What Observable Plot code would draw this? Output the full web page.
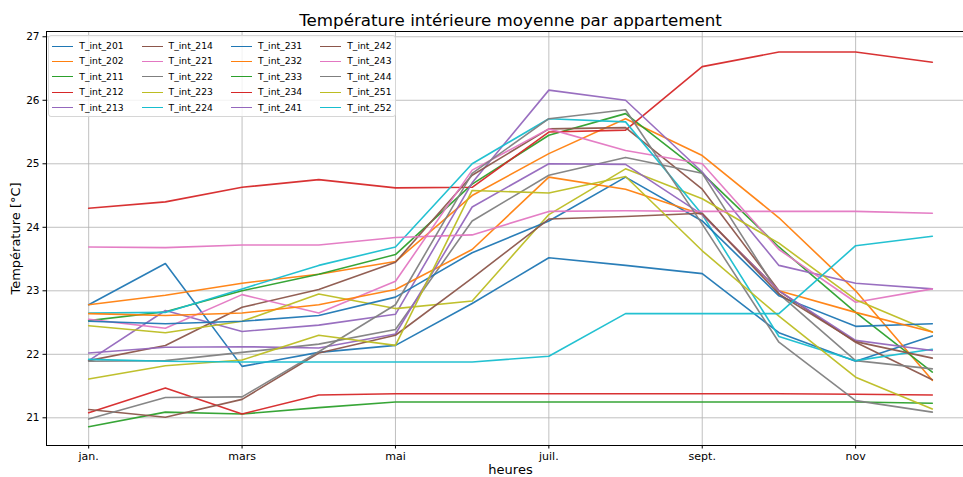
<!DOCTYPE html>
<html><head><meta charset="utf-8">
<script src="https://cdn.jsdelivr.net/npm/d3@7"></script>
<script src="https://cdn.jsdelivr.net/npm/@observablehq/plot@0.6"></script>
<style>
html,body{margin:0;padding:0;background:#fff;overflow:hidden;}
#wrap{position:relative;width:963px;height:477px;overflow:hidden;font-family:"DejaVu Sans",sans-serif;}
#legend{position:absolute;left:48px;top:35px;width:348px;height:82px;border:1px solid #d6d6d6;border-radius:3px;background:rgba(255,255,255,0.8);box-sizing:border-box;}
.item{position:absolute;height:14px;font-size:9.2px;line-height:14px;color:#000;white-space:nowrap;}
.sw{position:absolute;left:0;top:6.5px;width:21px;height:0;border-top:1.5px solid;}
.lbl{position:absolute;left:27px;top:0;}
</style></head>
<body><div id="wrap"></div>
<script>
const monthLabels = ["jan.", "févr.", "mars", "avr.", "mai", "juin", "juil.", "août", "sept.", "oct.", "nov", "déc."];
const months = [0,1,2,3,4,5,6,7,8,9,10,11];
const xTicks = [0, 2, 4, 6, 8, 10];
const yTicks = [21, 22, 23, 24, 25, 26, 27];
const names = ["T_int_201","T_int_202","T_int_211","T_int_212","T_int_213","T_int_214","T_int_221","T_int_222","T_int_223","T_int_224",
               "T_int_231","T_int_232","T_int_233","T_int_234","T_int_241","T_int_242","T_int_243","T_int_244","T_int_251","T_int_252"];
const colors = ["#1f77b4","#ff7f0e","#2ca02c","#d62728","#9467bd","#8c564b","#e377c2","#7f7f7f","#bcbd22","#17becf",
                "#1f77b4","#ff7f0e","#2ca02c","#d62728","#9467bd","#8c564b","#e377c2","#7f7f7f","#bcbd22","#17becf"];

const T_int_201 = [22.78, 23.43, 21.81, 22.03, 22.14, 22.80, 23.52, 23.40, 23.27, 22.34, 21.89, 22.29];
const T_int_202 = [22.78, 22.93, 23.12, 23.26, 23.46, 24.50, 25.16, 25.71, 25.13, 24.15, 23.00, 21.59];
const T_int_211 = [22.53, 22.67, 23.00, 23.26, 23.57, 24.68, 25.45, 25.79, 24.85, 23.69, 22.66, 21.72];
const T_int_212 = [24.30, 24.40, 24.63, 24.75, 24.62, 24.63, 25.50, 25.53, 26.53, 26.76, 26.76, 26.60];
const T_int_213 = [21.90, 22.69, 22.36, 22.46, 22.63, 24.70, 26.16, 26.00, 24.87, 23.40, 23.12, 23.03];
const T_int_214 = [21.90, 22.14, 22.74, 23.02, 23.45, 24.82, 25.55, 25.57, 24.60, 23.00, 22.19, 21.60];
const T_int_221 = [22.55, 22.41, 22.94, 22.65, 23.15, 24.90, 25.55, 25.21, 25.00, 23.65, 22.82, 23.03];
const T_int_222 = [21.89, 21.90, 22.03, 22.16, 22.39, 24.10, 24.82, 25.10, 24.85, 22.95, 21.90, 21.77];
const T_int_223 = [22.45, 22.34, 22.52, 22.95, 22.72, 22.84, 24.20, 24.92, 24.45, 23.75, 22.86, 22.35];
const T_int_224 = [22.65, 22.66, 23.03, 23.40, 23.69, 25.00, 25.71, 25.66, 24.20, 22.28, 21.90, 22.08];
const T_int_231 = [22.52, 22.48, 22.52, 22.61, 22.90, 23.60, 24.10, 24.79, 24.10, 22.92, 22.44, 22.48];
const T_int_232 = [22.64, 22.61, 22.65, 22.78, 23.02, 23.65, 24.79, 24.60, 24.20, 23.00, 22.66, 22.35];
const T_int_233 = [20.86, 21.09, 21.06, 21.16, 21.25, 21.25, 21.25, 21.25, 21.25, 21.25, 21.25, 21.23];
const T_int_234 = [21.08, 21.47, 21.06, 21.36, 21.38, 21.38, 21.38, 21.38, 21.38, 21.38, 21.37, 21.36];
const T_int_241 = [22.02, 22.11, 22.12, 22.10, 22.32, 24.32, 25.00, 24.99, 24.20, 23.00, 22.22, 22.06];
const T_int_242 = [21.13, 21.01, 21.29, 22.02, 22.30, 23.20, 24.13, 24.17, 24.22, 22.95, 22.20, 21.94];
const T_int_243 = [23.69, 23.68, 23.72, 23.72, 23.84, 23.88, 24.25, 24.26, 24.25, 24.25, 24.25, 24.22];
const T_int_244 = [20.98, 21.32, 21.33, 22.04, 22.78, 24.85, 25.71, 25.85, 24.05, 22.19, 21.27, 21.09];
const T_int_251 = [21.61, 21.82, 21.91, 22.30, 22.14, 24.58, 24.54, 24.80, 23.63, 22.60, 21.64, 21.14];
const T_int_252 = [21.92, 21.89, 21.88, 21.88, 21.88, 21.88, 21.97, 22.64, 22.64, 22.64, 23.71, 23.86];

const seriesValues = [T_int_201,T_int_202,T_int_211,T_int_212,T_int_213,T_int_214,T_int_221,T_int_222,T_int_223,T_int_224,
                      T_int_231,T_int_232,T_int_233,T_int_234,T_int_241,T_int_242,T_int_243,T_int_244,T_int_251,T_int_252];

const title = "Température intérieure moyenne par appartement";
const yLabel = "Température [°C]";
const xLabel = "heures";

const xDomain = [-0.55, 11.55];
const yDomain = [20.564, 27.083];

const rows = [];
names.forEach((n, i) => seriesValues[i].forEach((v, j) => rows.push({name: n, month: months[j], value: v})));

const gridStyle = {stroke: "#b0b0b0", strokeOpacity: 0.8, strokeWidth: 1};

const chart = Plot.plot({
  width: 963, height: 477,
  marginLeft: 46, marginRight: 0, marginTop: 31, marginBottom: 32,
  style: {fontFamily: "'DejaVu Sans', sans-serif", background: "white", color: "#000", overflow: "hidden"},
  x: {domain: xDomain, range: [46, 974]},
  y: {domain: yDomain},
  color: {domain: names, range: colors},
  marks: [
    Plot.gridX(xTicks, gridStyle),
    Plot.gridY(yTicks, gridStyle),
    Plot.line(rows, {x: "month", y: "value", z: "name", stroke: "name", strokeWidth: 1.6, strokeOpacity: 0.95}),
    Plot.ruleX([xDomain[0]], {stroke: "#000", strokeWidth: 1}),
    Plot.ruleY([yDomain[0], yDomain[1]], {stroke: "#000", strokeWidth: 1}),
    Plot.axisX(xTicks, {tickFormat: d => monthLabels[d], tickSize: 3.5, tickPadding: 3.5, fontSize: 11, label: null, stroke: "#000"}),
    Plot.axisY(yTicks, {tickFormat: d => String(d), tickSize: 3.5, tickPadding: 3.5, fontSize: 10.5, label: null, stroke: "#000"}),
    Plot.text([title], {frameAnchor: "top", lineAnchor: "middle", dy: -11, dx: 5.5, fontSize: 16.7, fill: "#000"}),
    Plot.text([yLabel], {frameAnchor: "left", textAnchor: "middle", lineAnchor: "middle", rotate: -90, dx: -31, fontSize: 13, fill: "#000"}),
    Plot.text([xLabel], {frameAnchor: "bottom", lineAnchor: "bottom", dy: 28, dx: 5.5, fontSize: 13, fill: "#000"})
  ]
});
const wrap = document.getElementById("wrap");
wrap.appendChild(chart);

// legend (4 columns x 5 rows, column-major like matplotlib ncol=4)
const legend = document.createElement("div");
legend.id = "legend";
wrap.appendChild(legend);
const colX = [52.3, 141.6, 230.9, 320.2];
const rowY = [46, 61.4, 76.8, 92.2, 107.6];
names.forEach((n, i) => {
  const c = Math.floor(i / 5), r = i % 5;
  const it = document.createElement("div");
  it.className = "item";
  it.style.left = colX[c] + "px";
  it.style.top = (rowY[r] - 7) + "px";
  const sw = document.createElement("div");
  sw.className = "sw";
  sw.style.borderTopColor = colors[i];
  const lb = document.createElement("span");
  lb.className = "lbl";
  lb.textContent = n;
  it.appendChild(sw); it.appendChild(lb);
  wrap.appendChild(it);
});
</script></body></html>
